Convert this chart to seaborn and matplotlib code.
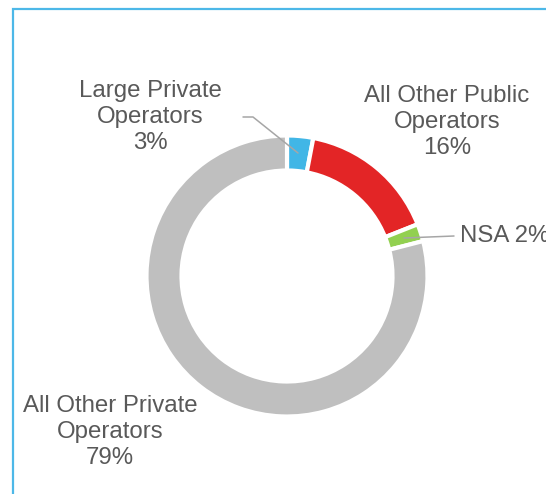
import matplotlib.pyplot as plt
from matplotlib.patches import Rectangle
import seaborn as sns

# data
categories = ["Large Private\nOperators", "All Other Public\nOperators", "NSA", "All Other Private\nOperators"]
shares = [3, 16, 2, 79]
colors = ["#41B6E6", "#E32526", "#92D050", "#BFBFBF"]

sns.set_theme(style="white")
plt.rcParams["font.family"] = ["Liberation Sans", "DejaVu Sans"]

W, H = 546, 494
fig = plt.figure(figsize=(W / 100, H / 100), dpi=100)
ax = fig.add_axes([0, 0, 1, 1])
ax.set_xlim(0, W)
ax.set_ylim(0, H)
ax.set_aspect("equal")
ax.axis("off")


def py(y):
    # pixel row -> data y
    return H - y


# light blue frame (runs off the right / bottom edge)
ax.add_patch(Rectangle((12.5, py(600)), 700, 600 - 9.5, fill=False,
                       edgecolor="#4DB8E8", linewidth=1.6))

# donut
ax.pie(shares, colors=colors, startangle=90, counterclock=False,
       center=(287, py(276)), radius=140.5,
       wedgeprops=dict(width=35, edgecolor="white", linewidth=3))
ax.set_xlim(0, W)
ax.set_ylim(0, H)

txt = dict(fontsize=17.3, color="#595959", linespacing=1.26)

# labels
ax.text(150, py(117), f"{categories[0]}\n{shares[0]}%", ha="center", va="center", **txt)
ax.text(447, py(122), f"{categories[1]}\n{shares[1]}%", ha="center", va="center", **txt)
ax.text(460, py(236), f"{categories[2]} {shares[2]}%", ha="left", va="center", **txt)
ax.text(110, py(432), f"{categories[3]}\n{shares[3]}%", ha="center", va="center", **txt)

# leader lines
ax.plot([243, 253, 298], [py(117), py(117), py(153)], color="#A6A6A6", linewidth=1.1)
ax.plot([404, 454], [py(238), py(236)], color="#A6A6A6", linewidth=1.1)

fig.savefig("out.png", dpi=100)
plt.close()
